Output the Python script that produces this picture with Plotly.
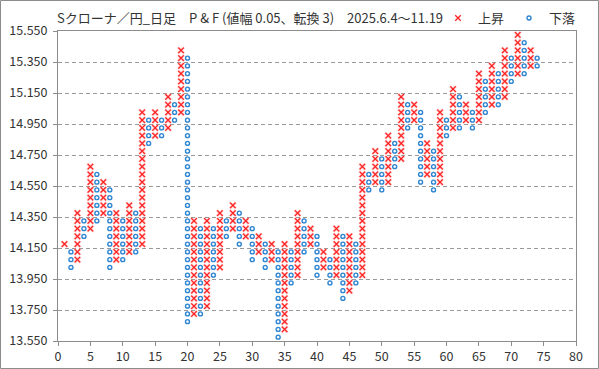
import plotly.graph_objects as go

BOX = 0.05

# Point & Figure columns (column number, kind, low box, high box)
col_number = list(range(1, 75))
col_kind = ["X", "O", "X", "O", "X", "O", "X", "O", "X", "O",
            "X", "O", "X", "O", "X", "O", "X", "O", "X", "O",
            "X", "O", "X", "O", "X", "O", "X", "O", "X", "O",
            "X", "O", "X", "O", "X", "O", "X", "O", "X", "O",
            "X", "O", "X", "O", "X", "O", "X", "O", "X", "O",
            "X", "O", "X", "O", "X", "O", "X", "O", "X", "O",
            "X", "O", "X", "O", "X", "O", "X", "O", "X", "O",
            "X", "O", "X", "O"]
col_low = [14.175, 14.025, 14.075, 14.225, 14.275, 14.325, 14.375, 14.025, 14.075, 14.075,
           14.125, 14.125, 14.175, 14.825, 14.875, 14.875, 14.925, 14.975, 15.025, 13.675,
           13.725, 13.725, 13.775, 13.975, 14.025, 14.225, 14.275, 14.175, 14.225, 14.075,
           14.125, 14.025, 14.075, 13.575, 13.625, 13.925, 13.975, 14.125, 14.175, 13.975,
           14.025, 13.925, 13.975, 13.825, 13.875, 13.925, 13.975, 14.525, 14.575, 14.525,
           14.575, 14.675, 14.725, 14.925, 14.975, 14.575, 14.625, 14.525, 14.575, 14.875,
           14.925, 14.925, 14.975, 14.925, 14.975, 15.025, 15.075, 15.075, 15.125, 15.225,
           15.275, 15.275, 15.325, 15.325]
col_high = [14.175, 14.125, 14.375, 14.325, 14.675, 14.625, 14.575, 14.525, 14.375, 14.325,
            14.425, 14.375, 15.025, 14.975, 15.025, 14.975, 15.125, 15.075, 15.425, 15.375,
            14.325, 14.275, 14.325, 14.275, 14.375, 14.325, 14.425, 14.375, 14.325, 14.275,
            14.225, 14.175, 14.175, 14.125, 14.175, 14.125, 14.375, 14.325, 14.275, 14.225,
            14.125, 14.075, 14.275, 14.225, 14.225, 14.175, 14.675, 14.625, 14.775, 14.725,
            14.875, 14.825, 15.125, 15.075, 15.075, 15.025, 14.825, 14.775, 15.025, 14.975,
            15.175, 15.125, 15.075, 15.025, 15.275, 15.225, 15.325, 15.275, 15.425, 15.375,
            15.525, 15.475, 15.425, 15.375]

y_ticks = [13.55, 13.75, 13.95, 14.15, 14.35, 14.55, 14.75, 14.95, 15.15, 15.35, 15.55]
x_ticks = [0, 5, 10, 15, 20, 25, 30, 35, 40, 45, 50, 55, 60, 65, 70, 75, 80]

TITLE = "Sクローナ／円_日足　P & F (値幅 0.05、転換 3)　2025.6.4～11.19"

xs_up, ys_up, xs_dn, ys_dn = [], [], [], []
for n, k, lo, hi in zip(col_number, col_kind, col_low, col_high):
    cnt = int(round((hi - lo) / BOX)) + 1
    vals = [round(lo + i * BOX, 3) for i in range(cnt)]
    if k == "X":
        xs_up += [n] * cnt
        ys_up += vals
    else:
        xs_dn += [n] * cnt
        ys_dn += vals

fig = go.Figure()
# soft halo under the X marks
fig.add_trace(go.Scatter(
    x=xs_up, y=ys_up, mode="markers", showlegend=False, hoverinfo="skip",
    marker=dict(symbol="x-thin", size=6, color="rgba(255,120,120,0.4)",
                line=dict(color="rgba(255,120,120,0.4)", width=2.8)),
))
fig.add_trace(go.Scatter(
    x=xs_up, y=ys_up, mode="markers", name="上昇",
    marker=dict(symbol="x-thin", size=5.5, color="#FF1E1E",
                line=dict(color="#FF1E1E", width=1.25)),
))
fig.add_trace(go.Scatter(
    x=xs_dn, y=ys_dn, mode="markers", name="下落",
    marker=dict(symbol="circle-open", size=4, color="#2F86D2",
                line=dict(color="#2F86D2", width=1.4)),
))

axis_col = "#8C8C8C"
txt_col = "#333333"
fig.update_layout(
    width=599, height=369,
    margin=dict(l=58, r=23, t=31, b=28, autoexpand=False),
    paper_bgcolor="white", plot_bgcolor="white",
    font=dict(family="Noto Sans CJK JP", size=13, color=txt_col),
    title=dict(text=TITLE, x=57 / 599, xanchor="left", y=1 - 18 / 369, yanchor="middle",
               font=dict(size=13, color=txt_col)),
    showlegend=True,
    legend=dict(orientation="h", xref="container", yref="container",
                x=438 / 599, xanchor="left", y=1 - 18 / 369,
                yanchor="middle", font=dict(size=13, color=txt_col), bgcolor="rgba(0,0,0,0)"),
    xaxis=dict(range=[0, 80], tickmode="array", tickvals=x_ticks, showgrid=False,
               ticks="outside", ticklen=4, tickcolor=axis_col, showline=True,
               linecolor=axis_col, mirror=True, zeroline=False, automargin=False,
               tickfont=dict(size=12.5, color=txt_col)),
    yaxis=dict(range=[13.55, 15.55], tickmode="array", tickvals=y_ticks,
               ticktext=[f"{v:.3f}" for v in y_ticks], showgrid=True,
               gridcolor="#9A9A9A", griddash="4px,3px", gridwidth=1,
               ticks="outside", ticklen=4, tickcolor=axis_col, showline=True,
               linecolor=axis_col, mirror=True, zeroline=False, ticklabelstandoff=3,
               automargin=False, tickfont=dict(size=12.5, color=txt_col)),
    shapes=[dict(type="rect", xref="paper", yref="paper",
                 x0=(-58 + 0.5) / 518, x1=(599 - 58 - 0.5) / 518,
                 y0=(-28 + 0.5) / 310, y1=(310 + 31 - 0.5) / 310,
                 line=dict(color="#8C8C8C", width=1), fillcolor="rgba(0,0,0,0)",
                 layer="below")],
)

fig.write_html("out.html", config={"displayModeBar": False, "staticPlot": True},
               post_script="document.body.style.margin='0';document.body.style.overflow='hidden';")
